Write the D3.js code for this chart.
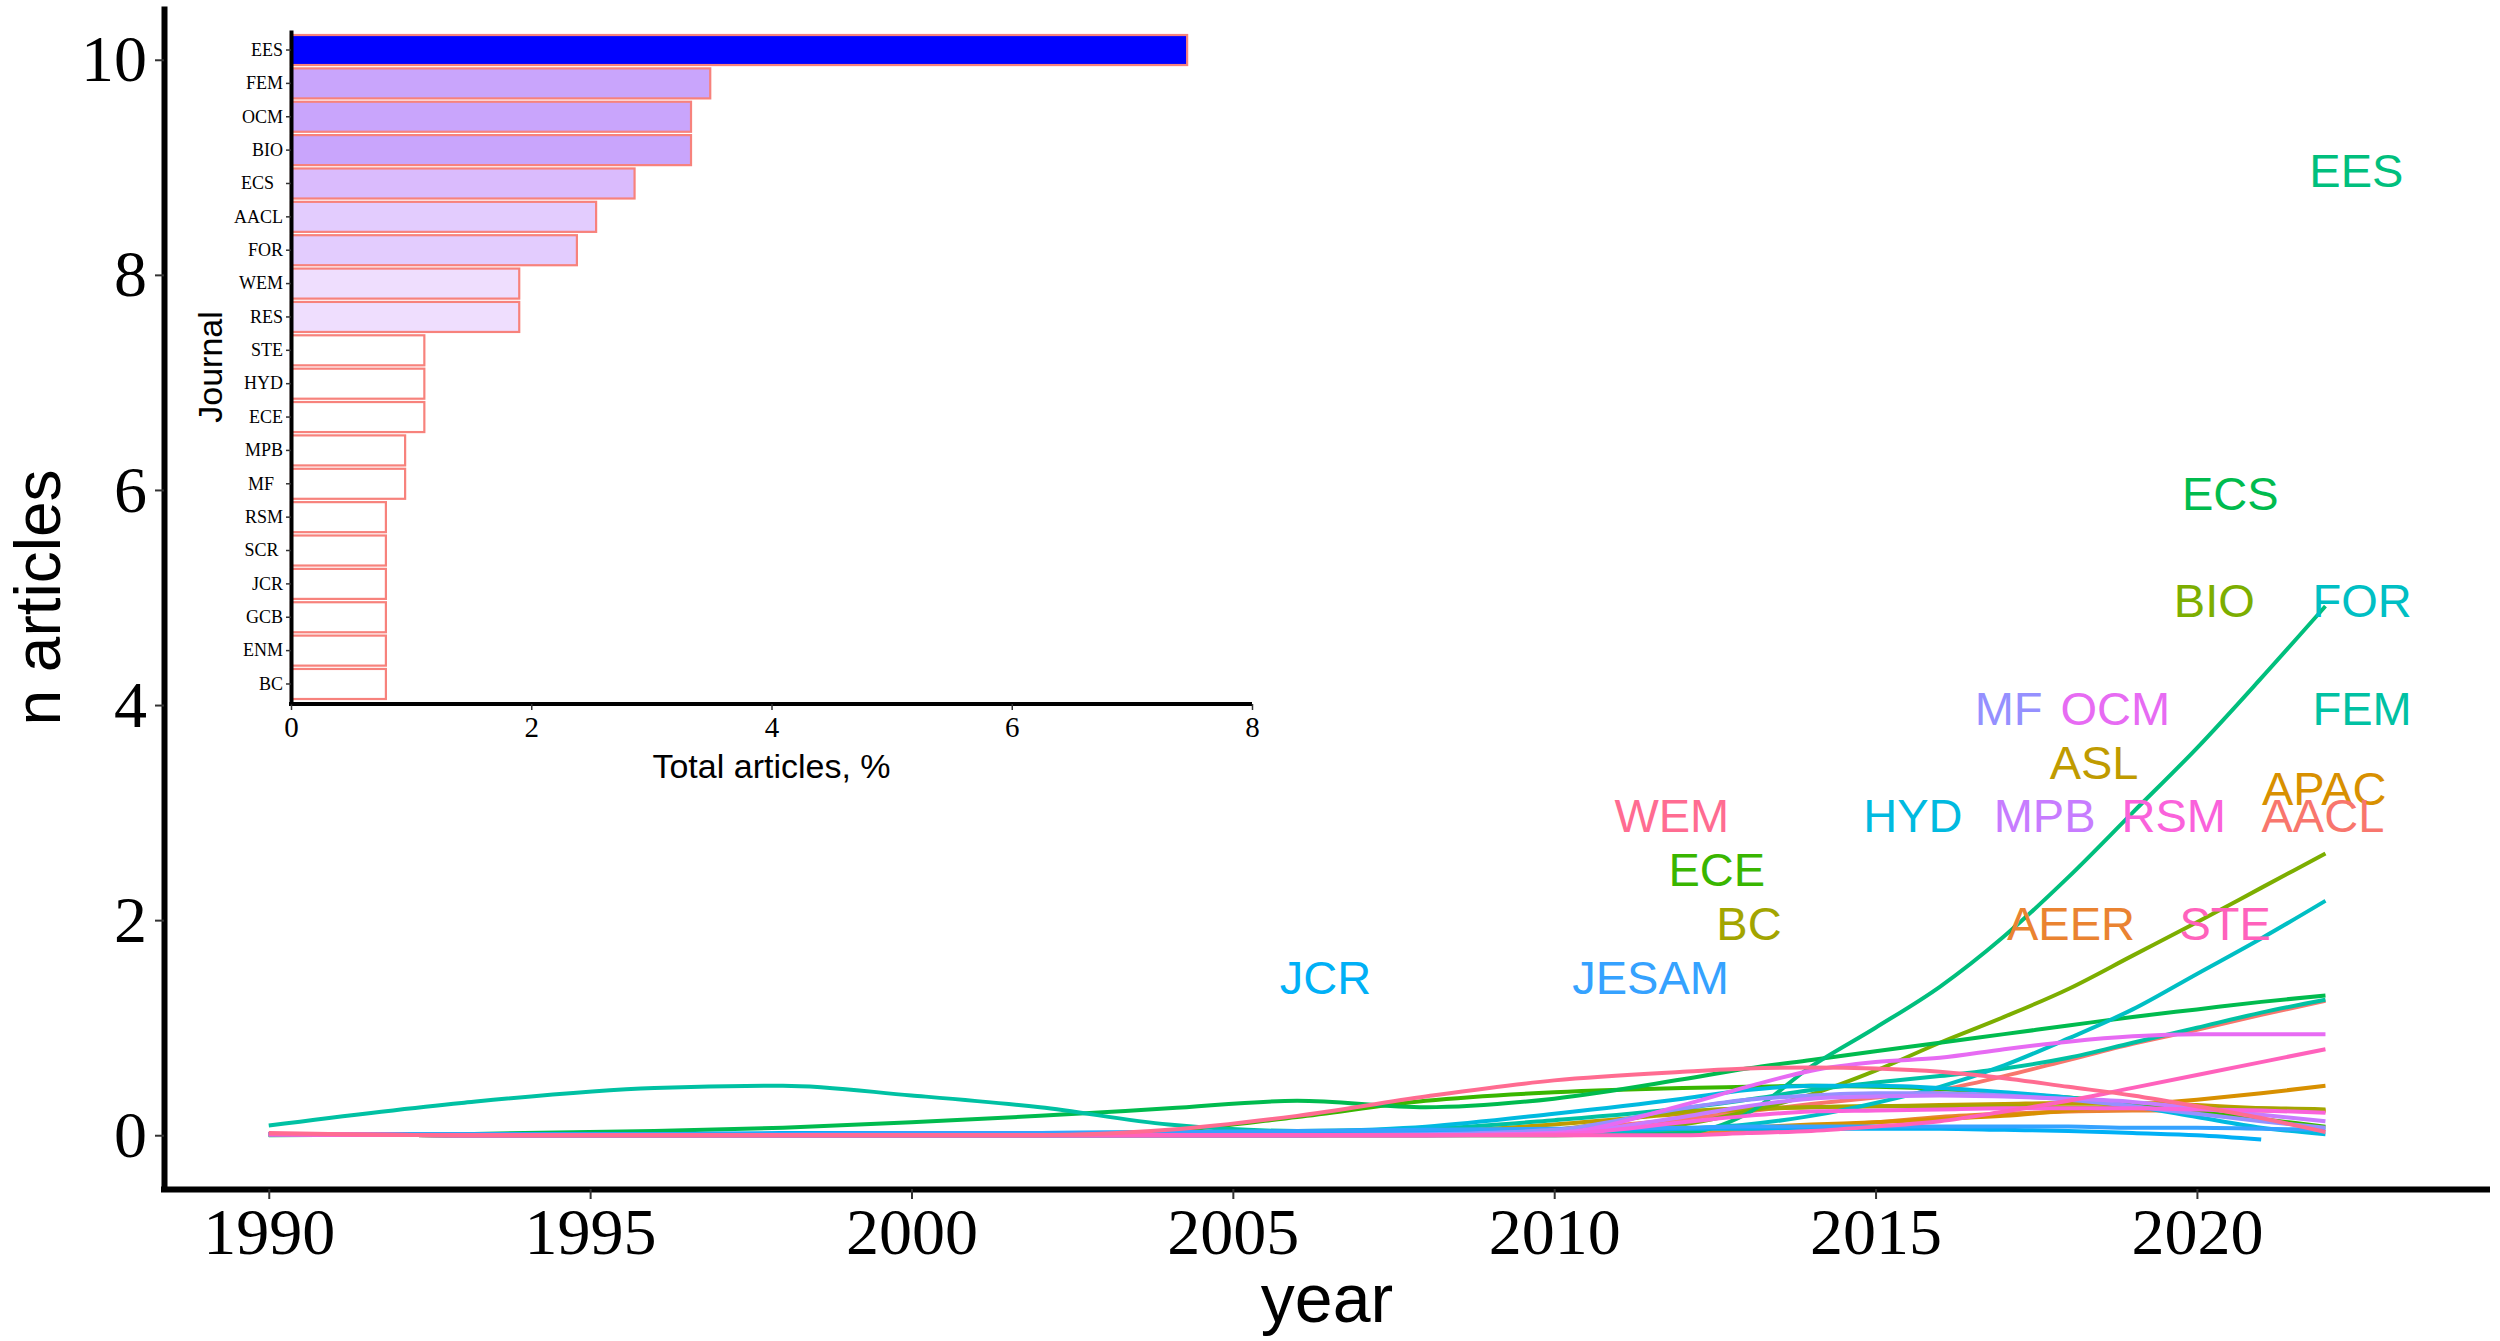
<!DOCTYPE html>
<html><head><meta charset="utf-8">
<script src="https://cdn.jsdelivr.net/npm/d3@7"></script>
<style>
html,body{margin:0;padding:0;background:#fff;}
svg{display:block;}
</style></head>
<body>
<svg id="chart" width="2500" height="1341"></svg>
<script>
// ---------- main chart data ----------
const years = [1990, 1993, 1996, 1998, 2000, 2002, 2004, 2006, 2008, 2010, 2012, 2013, 2014, 2015, 2016, 2017, 2018, 2019, 2020, 2021, 2022];
const journals = ["AACL","AEER","APAC","ASL","BC","BIO","ECE","ECS","EES","FEM","FOR","HYD","JCR","JESAM","MF","MPB","OCM","RSM","STE","WEM"];
const journalColors = ["#F8766D","#EA8331","#D89000","#C09B00","#A3A500","#7CAE00","#39B600","#00BB4E","#00BF7D","#00C1A3","#00BFC4","#00BAE0","#00B0F6","#35A2FF","#9590FF","#C77CFF","#E76BF3","#FA62DB","#FF62BC","#FF6C91"];
const lineValues = [
  [0.01,0,0,0,0,0,0,0,0.01,0.05,0.15,0.22,0.29,0.35,0.42,0.55,0.70,0.85,0.98,1.12,1.25],   // AACL
  [0.01,0,0,0,0,0,0,0,0,0,0.01,0.04,0.08,0.12,0.17,0.20,0.22,0.23,0.23,0.23,0.22],          // AEER
  [0.01,0,0,0,0,0,0,0,0.01,0.02,0.05,0.07,0.10,0.12,0.15,0.18,0.23,0.28,0.33,0.39,0.46],   // APAC
  [0.01,0,0,0,0,0,0,0,0.03,0.10,0.20,0.24,0.26,0.27,0.28,0.29,0.30,0.30,0.28,0.25,0.23],   // ASL
  [0.01,0,0,0,0,0,0,0,0,0.05,0.22,0.25,0.26,0.27,0.27,0.27,0.26,0.26,0.25,0.25,0.24],      // BC
  [0.01,0,0,0,0,0,0,0,0,0.02,0.10,0.22,0.38,0.60,0.86,1.10,1.36,1.67,1.98,2.30,2.62],      // BIO
  [0.01,0,0,0,0,0,0.04,0.17,0.32,0.40,0.44,0.45,0.46,0.45,0.43,0.39,0.35,0.29,0.22,0.15,0.08], // ECE
  [0,0.01,0.04,0.07,0.12,0.18,0.25,0.32,0.26,0.34,0.52,0.62,0.70,0.78,0.86,0.94,1.02,1.10,1.17,1.24,1.30], // ECS
  [0.01,0,0,0,0,0,0,0,0,0,0.02,0.20,0.64,1.00,1.38,1.85,2.40,3.00,3.60,4.25,4.92],         // EES
  [0.09,0.30,0.44,0.46,0.37,0.26,0.10,0.04,0.06,0.14,0.25,0.33,0.42,0.49,0.55,0.62,0.72,0.86,1.00,1.14,1.26], // FEM
  [0.01,0,0,0,0,0,0,0,0.01,0.02,0.06,0.10,0.18,0.30,0.45,0.65,0.90,1.17,1.50,1.83,2.18],   // FOR
  [0.01,0,0,0,0,0,0.01,0.03,0.08,0.20,0.34,0.42,0.46,0.46,0.44,0.40,0.35,0.27,0.17,0.07,0.01], // HYD
  [0.01,0.01,0.01,0.02,0.02,0.02,0.03,0.03,0.04,0.05,0.06,0.06,0.06,0.06,0.06,0.05,0.04,0.02,0.00,-0.04,null], // JCR
  [0.01,0.01,0.01,0.01,0.02,0.02,0.03,0.04,0.05,0.06,0.07,0.08,0.08,0.08,0.08,0.08,0.08,0.07,0.07,0.06,0.05], // JESAM
  [0.01,0,0,0,0,0,0,0,0.01,0.05,0.25,0.33,0.37,0.39,0.39,0.37,0.33,0.27,0.20,0.13,0.07],   // MF
  [0.01,0,0,0,0,0,0,0,0,0.02,0.17,0.27,0.34,0.36,0.37,0.36,0.34,0.31,0.25,0.19,0.13],      // MPB
  [0.01,0,0,0,0,0,0,0,0,0.02,0.28,0.45,0.60,0.68,0.72,0.80,0.87,0.92,0.94,0.94,0.94],      // OCM
  [0.01,0,0,0,0,0,0,0,0,0.01,0.12,0.18,0.22,0.23,0.24,0.25,0.25,0.25,0.24,0.23,0.21],      // RSM
  [0.01,0,0,0,0,0,0,0,0,0,0,0.02,0.04,0.08,0.13,0.22,0.32,0.44,0.56,0.68,0.80],            // STE
  [0.02,0,0,0,0,0,0.05,0.18,0.36,0.51,0.59,0.62,0.63,0.62,0.59,0.53,0.45,0.37,0.27,0.16,0.03]  // WEM
];
const labelNames  = ["EES","ECS","BIO","FOR","MF","OCM","FEM","ASL","APAC","WEM","HYD","MPB","RSM","AACL","ECE","BC","AEER","STE","JCR","JESAM"];
const labelYears  = [2022.48,2020.52,2020.27,2022.57,2017.07,2018.73,2022.57,2018.40,2021.98,2011.83,2015.58,2017.63,2019.64,2021.96,2012.53,2013.03,2018.04,2020.44,2006.44,2011.50];
const labelCounts = [9,6,5,5,4,4,4,3.5,3.25,3,3,3,3,3,2.5,2,2,2,1.5,1.5];
const xTickValues = [1990,1995,2000,2005,2010,2015,2020];
const yTickValues = [0,2,4,6,8,10];

// ---------- inset bar chart data ----------
const barJournals = ["EES","FEM","OCM","BIO","ECS\u00a0\u00a0","AACL","FOR","WEM","RES","STE","HYD","ECE","MPB","MF\u00a0\u00a0","RSM","SCR\u00a0","JCR","GCB","ENM","BC"];
const barPercent  = [7.46,3.49,3.33,3.33,2.86,2.54,2.38,1.90,1.90,1.11,1.11,1.11,0.95,0.95,0.79,0.79,0.79,0.79,0.79,0.79];
const barTickValues = [0,2,4,6,8];

// ---------- drawing ----------
const svg = d3.select("#chart");
const SERIF = "'Liberation Serif','Times New Roman',serif";
const SANS = "'Liberation Sans',Arial,Helvetica,sans-serif";

const x = d3.scaleLinear().domain([1988.37, 2024.56]).range([164, 2490]);
const y = d3.scaleLinear().domain([-0.5, 10.5]).range([1189, 6]);
const colorOf = d3.scaleOrdinal().domain(journals).range(journalColors);

// lines
const line = d3.line()
  .defined(d => d.v !== null)
  .x(d => x(d.year)).y(d => y(d.v))
  .curve(d3.curveMonotoneX);
const gLines = svg.append("g");
journals.forEach((j, i) => {
  const pts = years.map((yr, k) => ({year: yr, v: lineValues[i][k]}));
  gLines.append("path")
    .attr("d", line(pts))
    .attr("fill", "none")
    .attr("stroke", colorOf(j))
    .attr("stroke-width", 4)
    .attr("stroke-linejoin", "round");
});

// labels
svg.append("g").selectAll("text")
  .data(labelNames)
  .join("text")
  .attr("x", (d, i) => x(labelYears[i]))
  .attr("y", (d, i) => y(labelCounts[i]))
  .attr("dy", "0.42em")
  .attr("text-anchor", "middle")
  .attr("font-family", SANS)
  .attr("font-size", 47)
  .attr("fill", d => colorOf(d))
  .text(d => d);

// axes
const xAxis = svg.append("g").attr("transform", `translate(0,${y.range()[0]})`)
  .call(d3.axisBottom(x).tickValues(xTickValues).tickFormat(d3.format("d")).tickSize(10).tickSizeOuter(0).tickPadding(8));
xAxis.select(".domain").attr("stroke", "#000").attr("stroke-width", 6).attr("d", `M${x.range()[0]-3},0.5H${x.range()[1]}`);
xAxis.selectAll(".tick line").attr("stroke", "#333").attr("stroke-width", 2);
xAxis.selectAll(".tick text").attr("font-family", SERIF).attr("font-size", 66).attr("fill", "#000");

const yAxis = svg.append("g").attr("transform", `translate(${x.range()[0]},0)`)
  .call(d3.axisLeft(y).tickValues(yTickValues).tickSize(9).tickSizeOuter(0).tickPadding(8));
yAxis.select(".domain").attr("stroke", "#000").attr("stroke-width", 6);
yAxis.selectAll(".tick line").attr("stroke", "#333").attr("stroke-width", 2);
yAxis.selectAll(".tick text").attr("font-family", SERIF).attr("font-size", 66).attr("fill", "#000");

// axis titles
svg.append("text").attr("x", (x.range()[0] + x.range()[1]) / 2).attr("y", 1322)
  .attr("text-anchor", "middle").attr("font-family", SANS).attr("font-size", 68).attr("fill", "#000").text("year");
svg.append("text").attr("transform", `translate(60,${(y.range()[0] + y.range()[1]) / 2}) rotate(-90)`)
  .attr("text-anchor", "middle").attr("font-family", SANS).attr("font-size", 64).attr("fill", "#000").text("n articles");

// ---------- inset ----------
const xi = d3.scaleLinear().domain([0, 8]).range([291, 1252]);
const yi = d3.scaleBand().domain(barJournals).range([30, 704]).paddingInner(0.1).paddingOuter(0.15);
const fillOf = d3.scaleThreshold().domain([1.5, 2.2, 2.7, 3.2, 5])
  .range(["#FFFFFF", "#EFDEFE", "#E3CCFE", "#DABBFD", "#C9A5FC", "#0000FF"]);

const gi = svg.append("g");
gi.selectAll("rect").data(barJournals).join("rect")
  .attr("x", xi(0))
  .attr("y", d => yi(d))
  .attr("width", (d, i) => xi(barPercent[i]) - xi(0))
  .attr("height", yi.bandwidth())
  .attr("fill", (d, i) => fillOf(barPercent[i]))
  .attr("stroke", "#F7827C")
  .attr("stroke-width", 2.2);

const xiAxis = gi.append("g").attr("transform", `translate(0,704)`)
  .call(d3.axisBottom(xi).tickValues(barTickValues).tickSize(6).tickSizeOuter(0).tickPadding(6));
xiAxis.select(".domain").attr("stroke", "#000").attr("stroke-width", 4).attr("d", `M${xi.range()[0]-2},0H${xi.range()[1]}`);
xiAxis.selectAll(".tick line").attr("stroke", "#333").attr("stroke-width", 1.5);
xiAxis.selectAll(".tick text").attr("font-family", SERIF).attr("font-size", 29).attr("fill", "#000");

const yiAxis = gi.append("g").attr("transform", `translate(291,0)`)
  .call(d3.axisLeft(yi).tickSize(5).tickSizeOuter(0).tickPadding(3));
yiAxis.select(".domain").attr("stroke", "#000").attr("stroke-width", 4);
yiAxis.selectAll(".tick line").attr("stroke", "#333").attr("stroke-width", 1.5);
yiAxis.selectAll(".tick text").attr("font-family", SERIF).attr("font-size", 18).attr("fill", "#000");

gi.append("text").attr("x", (xi.range()[0] + xi.range()[1]) / 2).attr("y", 778)
  .attr("text-anchor", "middle").attr("font-family", SANS).attr("font-size", 34).attr("fill", "#000").text("Total articles, %");
gi.append("text").attr("transform", `translate(222,367) rotate(-90)`)
  .attr("text-anchor", "middle").attr("font-family", SANS).attr("font-size", 34).attr("fill", "#000").text("Journal");
</script>
</body></html>
